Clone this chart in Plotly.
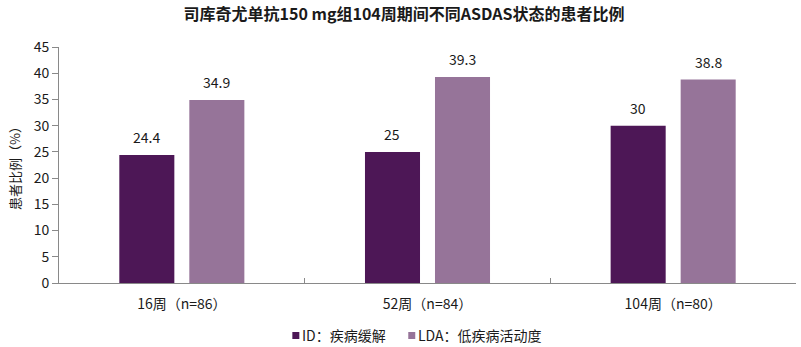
import plotly.graph_objects as go

# Data
categories = ["16周（n=86）", "52周（n=84）", "104周（n=80）"]
id_values = [24.4, 25, 30]
lda_values = [34.9, 39.3, 38.8]
series_names = ["ID：疾病缓解", "LDA：低疾病活动度"]
series_colors = ["#4d1756", "#967499"]
y_ticks = list(range(0, 50, 5))

FONT = "Noto Sans CJK SC, Microsoft YaHei, sans-serif"
BARGAP = 0.43
GROUPGAP = 0.214
W, H = 801, 347
L, R, T, B = 58.5, 5, 47, 64
PW, PH = W - L - R, H - T - B

fig = go.Figure()
for name, vals, color in zip(series_names, [id_values, lda_values], series_colors):
    fig.add_trace(go.Bar(
        name=name, x=categories, y=vals, showlegend=False,
        marker=dict(color=color, line=dict(width=0)),
    ))

# value labels placed above each bar, offset to each group's slot
slot = (1 - BARGAP) / 2
for s, vals in enumerate([id_values, lda_values]):
    offset = (s - 0.5) * slot
    for i, v in enumerate(vals):
        fig.add_annotation(
            x=i + offset, y=v, xref="x", yref="y", text=f"{v:g}",
            showarrow=False, yanchor="bottom", yshift=6,
            font=dict(family=FONT, size=14, color="#1a1a1a"),
        )

# compact legend below the axis: small square swatch followed by the name
def px_x(px):
    return (px - L) / PW

def px_y(py):
    return (T + PH - py) / PH

legend_px = [292, 408]
legend_cy = 335
for name, color, px in zip(series_names, series_colors, legend_px):
    fig.add_shape(
        type="rect", xref="paper", yref="paper",
        x0=px_x(px), x1=px_x(px + 7), y0=px_y(legend_cy + 4), y1=px_y(legend_cy - 3),
        fillcolor=color, line=dict(width=0),
    )
    fig.add_annotation(
        xref="paper", yref="paper", x=px_x(px + 9), y=px_y(legend_cy),
        xanchor="left", yanchor="middle", showarrow=False, borderpad=0,
        text=name, font=dict(family=FONT, size=14, color="#1a1a1a"),
    )

fig.update_layout(
    width=W, height=H,
    margin=dict(l=L, r=R, t=T, b=B, autoexpand=False),
    paper_bgcolor="white", plot_bgcolor="white",
    barmode="group", bargap=BARGAP, bargroupgap=GROUPGAP,
    font=dict(family=FONT, size=14, color="#1a1a1a"),
    showlegend=False,
    title=dict(
        text="<b>司库奇尤单抗150 mg组104周期间不同ASDAS状态的患者比例</b>",
        x=404 / W, xanchor="center", y=1 - 14 / H, yanchor="middle",
        font=dict(family=FONT, size=16, color="#1a1a1a"),
    ),
    xaxis=dict(
        type="category", showline=True, linecolor="#898989", linewidth=1,
        ticks="inside", tickson="boundaries", ticklen=5, tickcolor="#898989",
        showgrid=False, tickfont=dict(family=FONT, size=14),
        ticklabelstandoff=8, automargin=False,
    ),
    yaxis=dict(
        range=[0, 45], tickvals=y_ticks, showline=True, linecolor="#898989",
        linewidth=1, ticks="outside", ticklen=6, tickcolor="#898989",
        showgrid=False, zeroline=False, tickfont=dict(family=FONT, size=14),
        title=dict(text="患者比例（%）", font=dict(family=FONT, size=13), standoff=10),
        automargin=False,
    ),
)

fig.write_html("out.html")
